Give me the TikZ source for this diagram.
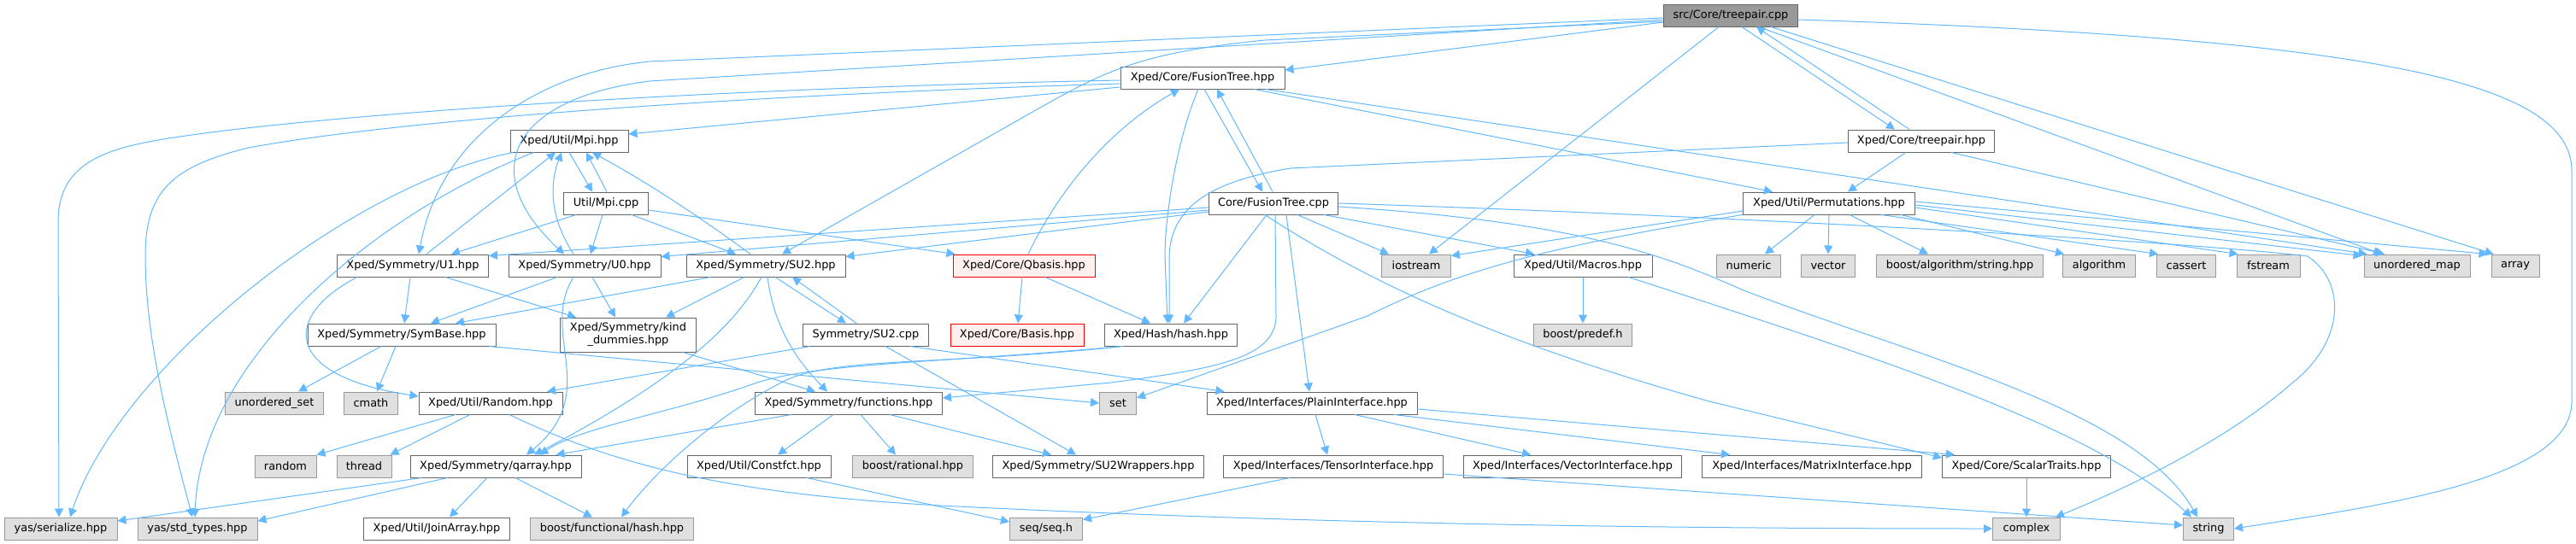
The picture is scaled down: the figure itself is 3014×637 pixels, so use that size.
\documentclass[tikz,border=0pt]{standalone}
\usepackage{fontspec}
\newfontfamily\dvs{DejaVu Sans}
\usetikzlibrary{arrows.meta,calc}
\definecolor{eb}{HTML}{63B8FF}
\definecolor{c40}{HTML}{666666}
\definecolor{c60}{HTML}{999999}
\definecolor{c87}{HTML}{E0E0E0}
\definecolor{pinkf}{HTML}{FFF0F0}
\definecolor{redb}{HTML}{FF0000}
\tikzset{
 nd/.style={draw=c40, fill=white, line width=0.5pt, inner sep=0pt, minimum height=13pt, font=\dvs\fontsize{6.45pt}{7.6pt}\selectfont},
 ext/.style={nd, draw=c60, fill=c87},
 trunc/.style={nd, draw=redb, fill=pinkf},
 rootnd/.style={nd, draw=c40, fill=c60},
 bw/.style={minimum width=#1*0.5pt},
 edg/.style={draw=eb, line width=0.5pt, -{Triangle[length=5pt,width=5pt]}},
}
\begin{document}
\begin{tikzpicture}[x=0.5pt,y=-0.5pt]
\path[use as bounding box] (0,0) rectangle (3014,637);
% nodes
\node[rootnd,bw=157] (T) at (2025,18) {src/Core/treepair.cpp};
\node[nd,bw=192] (FTh) at (1407,91) {Xped/Core/FusionTree.hpp};
\node[nd,bw=171] (TPh) at (2248,165) {Xped/Core/treepair.hpp};
\node[nd,bw=138] (Mpih) at (666,165) {Xped/Util/Mpi.hpp};
\node[nd,bw=99] (Mpic) at (709,238) {Util/Mpi.cpp};
\node[nd,bw=151] (FTc) at (1490,238) {Core/FusionTree.cpp};
\node[nd,bw=201] (Perm) at (2140,238) {Xped/Util/Permutations.hpp};
\node[nd,bw=177] (U1) at (483,311) {Xped/Symmetry/U1.hpp};
\node[nd,bw=178] (U0) at (684,311) {Xped/Symmetry/U0.hpp};
\node[nd,bw=186] (SU2) at (896,311) {Xped/Symmetry/SU2.hpp};
\node[trunc,bw=166] (Qb) at (1198,311) {Xped/Core/Qbasis.hpp};
\node[ext,bw=81] (ios) at (1657,311) {iostream};
\node[nd,bw=162] (Mac) at (1852,311) {Xped/Util/Macros.hpp};
\node[ext,bw=75] (num) at (2046,311) {numeric};
\node[ext,bw=63] (vec) at (2139,311) {vector};
\node[ext,bw=195] (bas) at (2293,311) {boost/algorithm/string.hpp};
\node[ext,bw=85] (alg) at (2456,311) {algorithm};
\node[ext,bw=69] (cas) at (2558,311) {cassert};
\node[ext,bw=74] (fst) at (2654,311) {fstream};
\node[ext,bw=124] (umap) at (2828,311) {unordered\_map};
\node[ext,bw=56] (arr) at (2943,311) {array};
\node[nd,bw=220] (SB) at (470,392) {Xped/Symmetry/SymBase.hpp};
\node[nd,bw=159,minimum height=20pt,align=center] (kind) at (735,392) {Xped/Symmetry/kind\\\_dummies.hpp};
\node[nd,bw=147] (SU2c) at (1013,392) {Symmetry/SU2.cpp};
\node[trunc,bw=156] (Bas) at (1190,392) {Xped/Core/Basis.hpp};
\node[nd,bw=155] (hash) at (1370,392) {Xped/Hash/hash.hpp};
\node[ext,bw=115] (pre) at (1852,392) {boost/predef.h};
\node[ext,bw=115] (uset) at (321,472) {unordered\_set};
\node[ext,bw=63] (cmath) at (434,472) {cmath};
\node[nd,bw=168] (Rnd) at (574,472) {Xped/Util/Random.hpp};
\node[nd,bw=219] (fun) at (993,472) {Xped/Symmetry/functions.hpp};
\node[ext,bw=43] (set) at (1308,472) {set};
\node[nd,bw=246] (Pl) at (1535,472) {Xped/Interfaces/PlainInterface.hpp};
\node[ext,bw=72] (rnd) at (334,546) {random};
\node[ext,bw=64] (thr) at (426,546) {thread};
\node[nd,bw=200] (qa) at (580,546) {Xped/Symmetry/qarray.hpp};
\node[nd,bw=168] (cf) at (888,546) {Xped/Util/Constfct.hpp};
\node[ext,bw=141] (rat) at (1068,546) {boost/rational.hpp};
\node[nd,bw=247] (su2w) at (1285,546) {Xped/Symmetry/SU2Wrappers.hpp};
\node[nd,bw=257] (ten) at (1560,546) {Xped/Interfaces/TensorInterface.hpp};
\node[nd,bw=255] (vecI) at (1840,546) {Xped/Interfaces/VectorInterface.hpp};
\node[nd,bw=257] (mat) at (2120,546) {Xped/Interfaces/MatrixInterface.hpp};
\node[nd,bw=197] (sc) at (2371,546) {Xped/Core/ScalarTraits.hpp};
\node[ext,bw=132] (yser) at (71,619) {yas/serialize.hpp};
\node[ext,bw=140] (ystd) at (231,619) {yas/std\_types.hpp};
\node[nd,bw=171] (join) at (511,619) {Xped/Util/JoinArray.hpp};
\node[ext,bw=191] (bfh) at (716,619) {boost/functional/hash.hpp};
\node[ext,bw=85] (seq) at (1224,619) {seq/seq.h};
\node[ext,bw=79] (cplx) at (2371,619) {complex};
\node[ext,bw=59] (str) at (2584,619) {string};
% root edges
\draw[edg] ($(T.west)+(0,8)$) -- ($(FTh.east)+(0,-9)$);
\draw[edg] ($(T.west)+(0,3)$) -- (760,72) .. controls (630,85) and (515,160) .. ($(U1.north)+(7,0)$);
\draw[edg] ($(T.west)+(0,5)$) -- (760,95) .. controls (600,115) and (555,200) .. ($(U0.north)+(-24,0)$);
\draw[edg] ($(T.west)+(0,7)$) -- (1480,47) .. controls (1330,62) and (1290,85) .. (1210,130) -- ($(SU2.north)+(19,0)$);
\draw[edg] ($(T.south)+(-14,0)$) -- ($(ios.north)+(15,0)$);
\draw[edg] ($(T.south)+(13,0)$) -- ($(TPh.north)+(-31,0)$);
\draw[edg] ($(TPh.north)+(-14,0)$) -- ($(T.south)+(30,0)$);
\draw[edg] ($(T.south)+(33,0)$) -- ($(umap.north)+(-41,0)$);
\draw[edg] ($(T.south)+(47,0)$) -- ($(arr.north west)+(3,0)$);
\draw[edg] ($(T.east)+(0,5)$) .. controls (2800,45) and (3009,100) .. (3009,200) -- (3009,470) .. controls (3009,560) and (2800,590) .. (str.east);
% FusionTree.hpp
\draw[edg] ($(FTh.west)+(0,3)$) .. controls (900,102) and (500,125) .. (262,153) .. controls (150,168) and (68,175) .. (68,260) -- ($(yser.north)+(-2,0)$);
\draw[edg] ($(FTh.west)+(0,7)$) .. controls (900,110) and (480,138) .. (291,173) .. controls (200,195) and (170,225) .. (170,300) .. controls (170,400) and (200,510) .. ($(ystd.north)+(-6,0)$);
\draw[edg] ($(FTh.west)+(0,11)$) -- ($(Mpih.east)+(0,-8)$);
\draw[edg] ($(FTh.south)+(-5,0)$) .. controls (1378,160) and (1363,250) .. (1363,300) -- ($(hash.north)+(-4,0)$);
\draw[edg] ($(FTh.south)+(2,0)$) -- ($(FTc.north)+(-13,0)$);
\draw[edg] ($(FTc.north)+(-1,0)$) -- ($(FTh.south)+(17,0)$);
\draw[edg] ($(FTh.south east)+(-36,0)$) -- ($(Perm.north)+(-66,0)$);
\draw[edg] ($(FTh.south east)+(-23,0)$) -- ($(umap.north west)+(4,0)$);
% treepair.hpp
\draw[edg] ($(TPh.west)+(0,2)$) -- (1510,197) .. controls (1420,212) and (1370,240) .. (1368,300) -- ($(hash.north)+(-2,0)$);
\draw[edg] ($(TPh.south)+(-18,0)$) -- ($(Perm.north)+(22,0)$);
\draw[edg] ($(TPh.south)+(35,0)$) -- ($(umap.north)+(-38,0)$);
% Mpi.hpp
\draw[edg] ($(Mpih.south west)+(4,0)$) .. controls (410,215) and (140,430) .. ($(yser.north)+(11,0)$);
\draw[edg] ($(Mpih.south west)+(28,0)$) .. controls (440,250) and (235,420) .. ($(ystd.north)+(-3,0)$);
\draw[edg] (Mpih.south) -- ($(Mpic.north)+(-16,0)$);
\draw[edg] ($(Mpic.north)+(1,0)$) -- ($(Mpih.south)+(20,0)$);
\draw[edg] ($(U1.north)+(16,0)$) -- ($(Mpih.south)+(-16,0)$);
\draw[edg] ($(U0.north)+(-13,0)$) .. controls (640,250) and (645,210) .. ($(Mpih.south)+(-9,0)$);
\draw[edg] ($(SU2.north)+(-18,0)$) .. controls (820,255) and (760,215) .. ($(Mpih.south)+(27,0)$);
% Mpi.cpp
\draw[edg] ($(Mpic.south)+(-35,0)$) -- ($(U1.north)+(45,0)$);
\draw[edg] ($(Mpic.south)+(-4,0)$) -- ($(U0.north)+(7,0)$);
\draw[edg] ($(Mpic.south east)+(-20,0)$) -- ($(SU2.north)+(-35,0)$);
\draw[edg] ($(Mpic.east)+(0,8)$) -- ($(Qb.north west)+(3,0)$);
% FusionTree.cpp
\draw[edg] ($(FTc.west)+(0,5)$) -- ($(U1.north east)+(0,2)$);
\draw[edg] ($(FTc.west)+(0,8)$) -- ($(U0.north east)+(0,3)$);
\draw[edg] ($(FTc.west)+(0,10)$) -- ($(SU2.north east)+(0,3)$);
\draw[edg] ($(FTc.south)+(15,0)$) -- ($(Pl.north)+(-3,0)$);
\draw[edg] ($(FTc.south)+(28,0)$) -- ($(ios.north west)+(9,0)$);
\draw[edg] ($(FTc.south)+(59,0)$) -- ($(Mac.north)+(-57,0)$);
\draw[edg] ($(FTc.south)+(-10,0)$) .. controls (1600,330) and (1750,400) .. (2000,470) -- ($(sc.west)+(0,-10)$);
\draw[edg] ($(FTc.south)+(2,0)$) -- (1493,370) .. controls (1493,420) and (1420,432) .. (1300,448) -- ($(fun.east)+(0,-6)$);
\draw[edg] ($(FTc.south)+(-8,0)$) -- ($(hash.north)+(15,0)$);
\draw[edg] ($(FTc.east)+(0,4)$) .. controls (1850,260) and (1950,300) .. (2040,340) .. controls (2250,420) and (2500,480) .. ($(str.north)+(-13,0)$);
\draw[edg] (FTc.east) .. controls (2000,252) and (2550,282) .. (2700,300) .. controls (2745,330) and (2745,400) .. (2680,450) .. controls (2600,520) and (2480,575) .. ($(cplx.north east)+(-6,0)$);
% Permutations
\draw[edg] ($(Perm.west)+(0,9)$) -- ($(ios.north east)+(0,2)$);
\draw[edg] (Perm.south west) .. controls (1800,290) and (1700,320) .. (1600,370) -- ($(set.east)+(0,-6)$);
\draw[edg] ($(Perm.south)+(-17,0)$) -- ($(num.north)+(19,0)$);
\draw[edg] (Perm.south) -- (vec.north);
\draw[edg] ($(Perm.south)+(24,0)$) -- ($(bas.north)+(-37,0)$);
\draw[edg] ($(Perm.south east)+(-17,0)$) -- ($(alg.north west)+(2,0)$);
\draw[edg] ($(Perm.south east)+(-40,0)$) -- ($(cas.north west)+(2,0)$);
\draw[edg] ($(Perm.east)+(0,5)$) -- ($(fst.north west)+(2,0)$);
\draw[edg] ($(Perm.east)+(0,2)$) -- ($(umap.north west)+(-2,2)$);
\draw[edg] ($(Perm.east)+(0,-2)$) -- ($(arr.north west)+(-4,0)$);
% SU2.hpp
\draw[edg] ($(SU2.south west)+(29,0)$) -- ($(SB.north)+(63,0)$);
\draw[edg] ($(SU2.south)+(-25,0)$) -- ($(kind.north)+(44,0)$);
\draw[edg] ($(SU2.south)+(-5,0)$) .. controls (860,380) and (800,440) .. ($(qa.north)+(45,0)$);
\draw[edg] ($(SU2.south)+(2,0)$) .. controls (905,380) and (930,420) .. ($(fun.north)+(-25,0)$);
\draw[edg] ($(SU2.south)+(11,0)$) -- ($(SU2c.north)+(-23,0)$);
\draw[edg] ($(SU2c.north)+(-11,0)$) -- ($(SU2.south)+(31,0)$);
% SU2.cpp
\draw[edg] ($(SU2c.south west)+(9,0)$) -- ($(Rnd.north)+(66,0)$);
\draw[edg] ($(SU2c.south)+(23,0)$) -- ($(su2w.north)+(-26,0)$);
\draw[edg] ($(SU2c.south east)+(-22,0)$) -- ($(Pl.north west)+(21,0)$);
% kind
\draw[edg] ($(kind.south east)+(-16,0)$) -- ($(fun.north)+(-39,0)$);
% U1
\draw[edg] ($(U1.south)+(-3,0)$) -- ($(SB.north)+(3,0)$);
\draw[edg] ($(U1.south)+(38,0)$) -- ($(kind.north west)+(19,0)$);
\draw[edg] ($(U1.south west)+(24,0)$) .. controls (330,370) and (330,440) .. ($(Rnd.west)+(0,-8)$);
% U0
\draw[edg] ($(U0.south)+(-32,0)$) -- ($(SB.north)+(34,0)$);
\draw[edg] ($(U0.south)+(9,0)$) -- ($(kind.north)+(-15,0)$);
\draw[edg] ($(U0.south)+(-13,0)$) .. controls (630,390) and (705,460) .. ($(qa.north)+(36,0)$);
% SymBase
\draw[edg] ($(SB.south)+(-24,0)$) -- ($(uset.north)+(28,0)$);
\draw[edg] ($(SB.south)+(-7,0)$) -- ($(cmath.north)+(7,0)$);
\draw[edg] ($(SB.south east)+(-8,0)$) -- (set.west);
% Random
\draw[edg] ($(Rnd.south)+(-41,0)$) -- (rnd.north east);
\draw[edg] ($(Rnd.south)+(-24,0)$) -- ($(thr.north east)+(-2,0)$);
\draw[edg] ($(Rnd.south)+(22,0)$) .. controls (720,545) and (850,578) .. (1100,592) .. controls (1500,612) and (1900,619) .. (cplx.west);
% functions
\draw[edg] ($(fun.south west)+(43,0)$) -- ($(qa.north east)+(-30,0)$);
\draw[edg] ($(fun.south)+(-18,0)$) -- ($(cf.north)+(22,0)$);
\draw[edg] ($(fun.south)+(14,0)$) -- ($(rat.north)+(-20,0)$);
\draw[edg] ($(fun.south)+(48,0)$) -- ($(su2w.north)+(-55,0)$);
% hash
\draw[edg] ($(hash.south west)+(22,0)$) .. controls (1100,425) and (950,425) .. (880,450) .. controls (780,485) and (680,500) .. ($(qa.north east)+(-49,0)$);
\draw[edg] ($(hash.south west)+(22,0)$) .. controls (1100,428) and (980,418) .. (920,445) .. controls (830,490) and (760,560) .. ($(bfh.north)+(11,0)$);
% Qbasis
\draw[edg] ($(Qb.north)+(5,0)$) .. controls (1240,220) and (1300,150) .. ($(FTh.south)+(-27,0)$);
\draw[edg] ($(Qb.south)+(-2,0)$) -- ($(Bas.north)+(1,0)$);
\draw[edg] ($(Qb.south)+(25,0)$) -- ($(hash.north)+(-24,0)$);
% Macros
\draw[edg] (Mac.south) -- (pre.north);
\draw[edg] ($(Mac.south east)+(-28,0)$) .. controls (2200,420) and (2450,500) .. ($(str.north)+(-20,0)$);
% PlainInterface
\draw[edg] ($(Pl.south)+(4,0)$) -- ($(ten.north)+(-7,0)$);
\draw[edg] ($(Pl.south)+(50,0)$) -- ($(vecI.north)+(-49,0)$);
\draw[edg] ($(Pl.south)+(96,0)$) -- ($(mat.north)+(-96,0)$);
\draw[edg] ($(Pl.east)+(0,7)$) -- ($(sc.north west)+(15,0)$);
% TensorInterface, Constfct, ScalarTraits
\draw[edg] ($(ten.south west)+(78,0)$) -- ($(seq.north east)+(0,3)$);
\draw[edg] ($(ten.east)+(0,9)$) -- ($(str.west)+(0,-4)$);
\draw[edg] ($(cf.south)+(56,0)$) -- ($(seq.west)+(0,-8)$);
\draw[edg] (sc.south) -- (cplx.north);
% qarray
\draw[edg] ($(qa.south west)+(14,0)$) -- ($(yser.east)+(0,-9)$);
\draw[edg] ($(qa.south west)+(44,0)$) -- ($(ystd.east)+(0,-9)$);
\draw[edg] ($(qa.south)+(-10,0)$) -- ($(join.north)+(15,0)$);
\draw[edg] ($(qa.south)+(23,0)$) -- ($(bfh.north)+(-23,0)$);
\end{tikzpicture}
\end{document}
